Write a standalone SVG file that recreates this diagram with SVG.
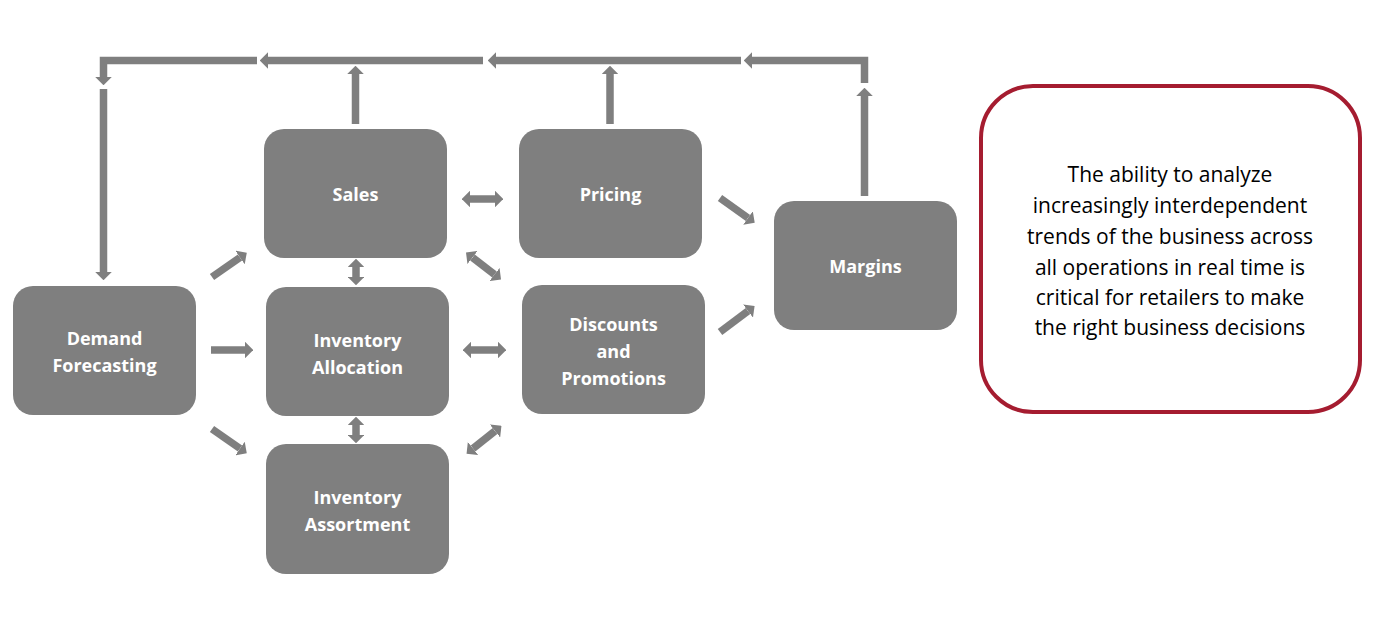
<svg xmlns="http://www.w3.org/2000/svg" width="1390" height="631" viewBox="0 0 1390 631">
<style>
.node{fill:#7f7f7f}
.lbl{font-family:"Open Sans","Liberation Sans",sans-serif;font-weight:bold;font-size:18px;fill:#fff;text-anchor:middle}
.c{stroke:#7f7f7f;stroke-width:7.5;fill:none}
.note{font-family:"Open Sans","Liberation Sans",sans-serif;font-size:21px;fill:#000;text-anchor:middle}
</style>
<defs>
<marker id="ah" markerUnits="strokeWidth" markerWidth="1.1" markerHeight="2.2" viewBox="0 0 1.1 2.2" refX="0" refY="1.1" orient="auto-start-reverse">
<path d="M0,0 L1.1,1.1 L0,2.2 z" fill="#7f7f7f"/>
</marker>
</defs>
<rect width="1390" height="631" fill="#fff"/>
<g id="connectors">
<polyline class="c" points="257,60.5 103.5,60.5 103.5,77" marker-end="url(#ah)"/>
<line class="c" x1="103.5" y1="89" x2="103.5" y2="272" marker-end="url(#ah)"/>
<line class="c" x1="483" y1="60.5" x2="268" y2="60.5" marker-end="url(#ah)"/>
<line class="c" x1="741" y1="60.5" x2="496" y2="60.5" marker-end="url(#ah)"/>
<polyline class="c" points="864.5,83 864.5,60.5 752,60.5" marker-end="url(#ah)"/>
<line class="c" x1="864.5" y1="196" x2="864.5" y2="96" marker-end="url(#ah)"/>
<line class="c" x1="355.5" y1="124" x2="355.5" y2="74" marker-end="url(#ah)"/>
<line class="c" x1="610" y1="124" x2="610" y2="74" marker-end="url(#ah)"/>
<line class="c" x1="212" y1="277" x2="240" y2="257.5" marker-end="url(#ah)"/>
<line class="c" x1="211" y1="350" x2="245" y2="350" marker-end="url(#ah)"/>
<line class="c" x1="212" y1="429" x2="240" y2="448.5" marker-end="url(#ah)"/>
<line class="c" x1="356" y1="267" x2="356" y2="277" marker-start="url(#ah)" marker-end="url(#ah)"/>
<line class="c" x1="356" y1="425" x2="356" y2="435" marker-start="url(#ah)" marker-end="url(#ah)"/>
<line class="c" x1="470" y1="199" x2="495" y2="199" marker-start="url(#ah)" marker-end="url(#ah)"/>
<line class="c" x1="471" y1="350" x2="498" y2="350" marker-start="url(#ah)" marker-end="url(#ah)"/>
<line class="c" x1="472.5" y1="257.5" x2="494.5" y2="274.5" marker-start="url(#ah)" marker-end="url(#ah)"/>
<line class="c" x1="473" y1="448.5" x2="495" y2="431" marker-start="url(#ah)" marker-end="url(#ah)"/>
<line class="c" x1="720" y1="198" x2="748" y2="218" marker-end="url(#ah)"/>
<line class="c" x1="720" y1="332" x2="748" y2="311" marker-end="url(#ah)"/>
</g>
<g id="demand-forecasting">
<rect class="node" x="13" y="286" width="183" height="129" rx="20"/>
<text class="lbl" x="104.5" y="345">Demand</text>
<text class="lbl" x="104.5" y="372">Forecasting</text>
</g>
<g id="sales">
<rect class="node" x="264" y="129" width="183" height="129" rx="20"/>
<text class="lbl" x="355.5" y="201">Sales</text>
</g>
<g id="inventory-allocation">
<rect class="node" x="266" y="287" width="183" height="129" rx="20"/>
<text class="lbl" x="357.5" y="347">Inventory</text>
<text class="lbl" x="357.5" y="374">Allocation</text>
</g>
<g id="inventory-assortment">
<rect class="node" x="266" y="444" width="183" height="130" rx="20"/>
<text class="lbl" x="357.5" y="504">Inventory</text>
<text class="lbl" x="357.5" y="531">Assortment</text>
</g>
<g id="pricing">
<rect class="node" x="519" y="129" width="183" height="129" rx="20"/>
<text class="lbl" x="610.5" y="201">Pricing</text>
</g>
<g id="discounts-promotions">
<rect class="node" x="522" y="285" width="183" height="129" rx="20"/>
<text class="lbl" x="613.5" y="331">Discounts</text>
<text class="lbl" x="613.5" y="358">and</text>
<text class="lbl" x="613.5" y="385">Promotions</text>
</g>
<g id="margins">
<rect class="node" x="774" y="201" width="183" height="129" rx="20"/>
<text class="lbl" x="865.5" y="273">Margins</text>
</g>
<g id="note">
<rect x="981" y="86" width="379" height="326" rx="52" fill="#fff" stroke="#a51c30" stroke-width="4"/>
<text class="note" x="1170" y="182">The ability to analyze</text>
<text class="note" x="1170" y="213">increasingly interdependent</text>
<text class="note" x="1170" y="244">trends of the business across</text>
<text class="note" x="1170" y="275">all operations in real time is</text>
<text class="note" x="1170" y="305">critical for retailers to make</text>
<text class="note" x="1170" y="335">the right business decisions</text>
</g>
</svg>
